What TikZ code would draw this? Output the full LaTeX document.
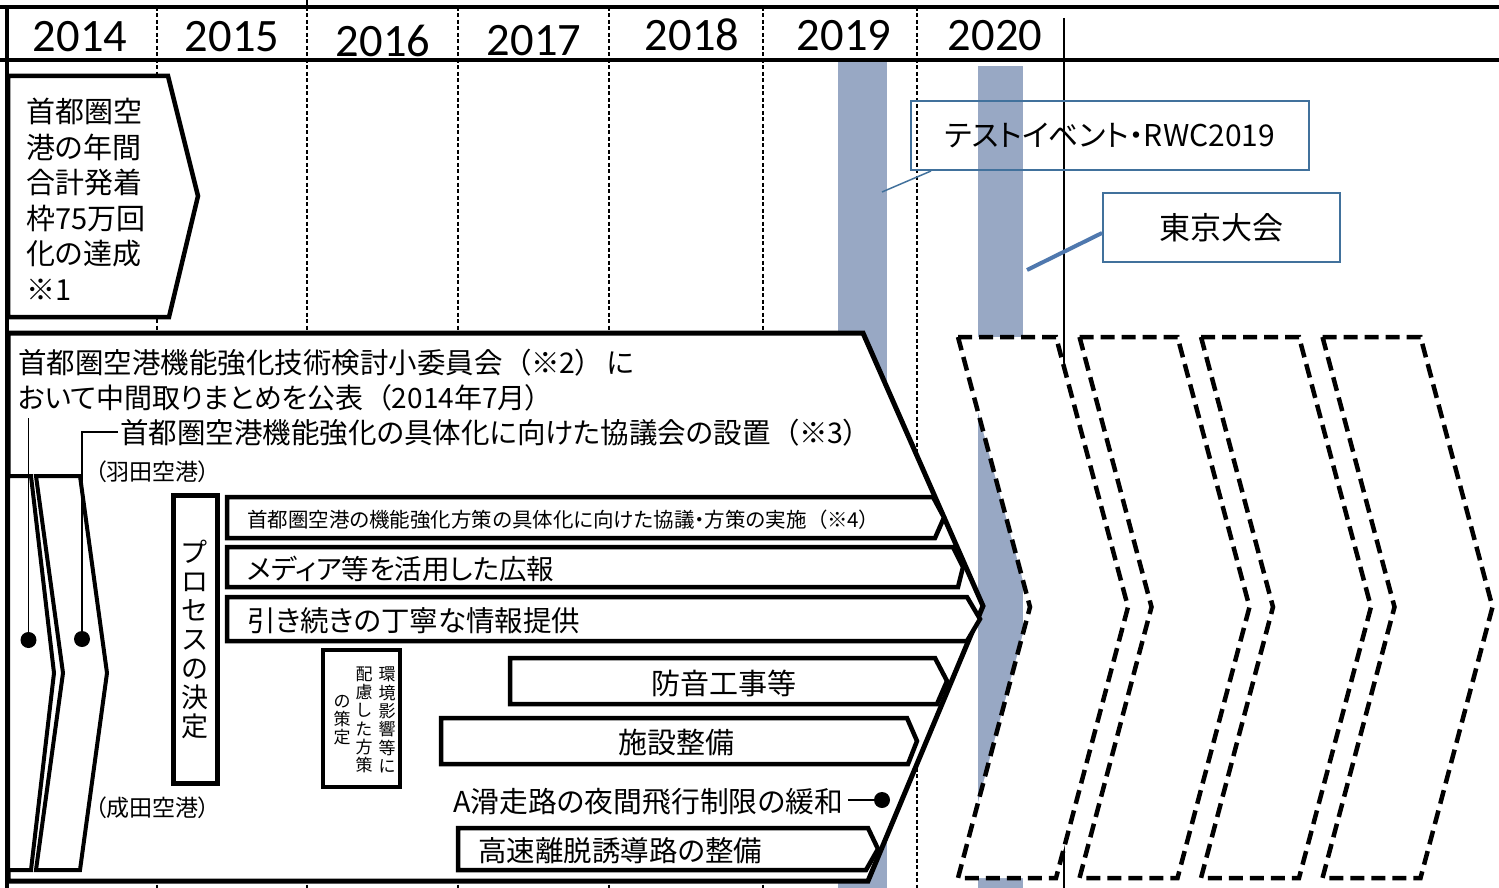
\documentclass[tikz,border=0pt]{standalone}
\usepackage{fontspec}
\newfontfamily\jp[RawFeature=+palt]{Noto Sans CJK JP}
\newfontfamily\yr{Carlito}
\newcommand\fsz[1]{\fontsize{#1}{#1}\selectfont}
\newcommand\jlp{\hspace{.5em}（}
\newcommand\jrp{）\hspace{.5em}}
\definecolor{barblue}{RGB}{152,168,196}
\definecolor{callblue}{RGB}{65,113,156}
\definecolor{callblueb}{RGB}{79,120,174}
\begin{document}
\begin{tikzpicture}[x=1pt,y=-1pt,
  jp/.style={font=\jp, inner sep=0pt},
  year/.style={font=\yr\fsz{46.5}, inner sep=0pt, anchor=base},
  grid/.style={line width=1.3pt, dash pattern=on 4pt off 2.5pt},
  shapebox/.style={draw, line width=4.5pt, fill=white, line join=miter},
  dbox/.style={draw, line width=4.5pt, fill=white, dash pattern=on 14pt off 7pt},
  dot/.style={circle, fill=black, inner sep=0pt, minimum size=16pt},
  cbox/.style={draw=callblue, line width=2pt, inner sep=0pt, font=\jp\fsz{30}},
]
\useasboundingbox (0,0) rectangle (1499,888);
\fill[white] (0,0) rectangle (1499,888);

% grid lines
\foreach \gx in {157,458,609,763,917} \draw[grid] (\gx,7) -- (\gx,888);
\draw[grid] (307,7) -- (307,888);
\draw[line width=1.3pt] (307,0) -- (307,7);
\draw[line width=1.3pt] (1064,18) -- (1064,888);

% event bars
\fill[barblue] (838,62) rectangle (887,888);
\fill[barblue] (978,66) rectangle (1023,888);

% header
\draw[line width=3.5pt] (0,7) -- (1499,7);
\draw[line width=4pt] (0,60) -- (1499,60);
\draw[line width=3.5pt] (7,5.25) -- (7,888);

\node[year] (y2014) at (80,52) {2014};
\node[year] (y2015) at (232,52) {2015};
\node[year] (y2016) at (383,57) {2016};
\node[year] (y2017) at (534,56) {2017};
\node[year] (y2018) at (692,51) {2018};
\node[year] (y2019) at (844,51) {2019};
\node[year] (y2020) at (995,51) {2020};

% top-left chevron
\draw[shapebox] (8,76) -- (168,76) -- (198,196) -- (169,317) -- (8,317) -- cycle;
\foreach \t [count=\i] in {首都圏空,港の年間,合計発着,枠75万回,化の達成,※1}
  \node[jp, font=\jp\fsz{29}, anchor=base west] (tl\i) at (26,{123+35.4*(\i-1)}) {\t};

% big arrow
\draw[shapebox, line width=5pt] (8,333) -- (863,333) -- (983,606) -- (868,881) -- (8,881) -- cycle;
\node[jp, font=\jp\fsz{28.5}, anchor=base west] (t1) at (18,373) {首都圏空港機能強化技術検討小委員会\jlp※2\jrp\hspace{.1em}に};
\node[jp, font=\jp\fsz{28}, anchor=base west] (t2) at (18,408) {おいて中間取りまとめを公表\jlp 2014年7月）};
\node[jp, font=\jp\fsz{28.5}, anchor=base west] (t3) at (120,443) {首都圏空港機能強化の具体化に向けた協議会の設置\jlp※3）};

% narrow chevrons (Haneda / Narita)
\draw[shapebox, line width=4pt] (8,476) -- (31,476) -- (54,673) -- (31,870) -- (8,870) -- cycle;
\draw[shapebox, line width=4pt] (36,476) -- (80,476) -- (107,673) -- (80,870) -- (36,870) -- (63,673) -- cycle;
\node[jp, font=\jp\fsz{23}, anchor=base west] (hnd) at (95,480) {（羽田空港）};
\node[jp, font=\jp\fsz{23}, anchor=base west] (nrt) at (95,816) {（成田空港）};

% connectors to dots
\node[dot] (d1) at (28.5,640) {};
\node[dot] (d2) at (82,639) {};
\coordinate (c1) at (28.5,418);
\coordinate (c2) at (118,432);
\draw[line width=1.5pt] (c1) -- (d1);
\draw[line width=2.2pt] (c2) -| (d2);

% process box
\draw[shapebox, line width=5pt] (173,495) rectangle (217,783);
\node[jp, font=\jp\fontsize{27}{29}\selectfont, align=center] (proc) at (195,639) {プ\\ロ\\セ\\ス\\の\\決\\定};

% environment box
\draw[shapebox, line width=4pt] (323,650) rectangle (400,787);
\node[jp, font=\jp\fontsize{17}{18.3}\selectfont, align=center] (env1) at (387,720) {環\\境\\影\\響\\等\\に};
\node[jp, font=\jp\fontsize{17}{18.3}\selectfont, align=center] (env2) at (364,720) {配\\慮\\し\\た\\方\\策};
\node[jp, font=\jp\fontsize{17}{18.3}\selectfont, align=center] (env3) at (342,720) {の\\策\\定};

% horizontal bars
\draw[shapebox] (227,497) -- (933,497) -- (944,517.5) -- (935,538) -- (227,538) -- cycle;
\node[jp, font=\jp\fsz{20.5}, anchor=base west] (b1) at (247,527) {首都圏空港の機能強化方策の具体化に向けた協議・方策の実施\jlp※4）};
\draw[shapebox] (227,547) -- (953,547) -- (963,567) -- (958,587) -- (227,587) -- cycle;
\node[jp, font=\jp\fsz{27.5}, anchor=base west] (b2) at (247,579) {メディア等を活用した広報};
\draw[shapebox] (227,597) -- (967,597) -- (980,619) -- (967,641) -- (227,641) -- cycle;
\node[jp, font=\jp\fsz{28.5}, anchor=base west] (b3) at (247,631) {引き続きの丁寧な情報提供};
\draw[shapebox] (510,658) -- (935,658) -- (947,681) -- (937,704) -- (510,704) -- cycle;
\node[jp, font=\jp\fsz{29}, anchor=base] (b4) at (724,694) {防音工事等};
\draw[shapebox] (441,718) -- (907,718) -- (917,741) -- (908,764) -- (441,764) -- cycle;
\node[jp, font=\jp\fsz{29}, anchor=base] (b5) at (676,753) {施設整備};
\node[jp, font=\jp\fsz{28.8}, anchor=base west] (b6) at (453,812) {A滑走路の夜間飛行制限の緩和};
\node[dot] (d3) at (882,800) {};
\coordinate (c3) at (848,800);
\draw[line width=2pt] (c3) -- (d3);
\draw[shapebox] (458,828) -- (868,828) -- (878,849) -- (866,870) -- (458,870) -- cycle;
\node[jp, font=\jp\fsz{28.5}, anchor=base west] (b7) at (478,861) {高速離脱誘導路の整備};

% dashed chevrons
\foreach \i in {0,1,2,3} {
  \pgfmathsetmacro{\L}{958+121.5*\i}
  \draw[dbox] (\L,337) -- ({\L+98},337) -- ({\L+170},607) -- ({\L+98},878) -- (\L,878) -- ({\L+72},607) -- cycle;
}

% callouts
\node[cbox, minimum width=398pt, minimum height=69pt] (rwc) at (1110,135.5) {テストイベント・RWC2019};
\node[cbox, font=\jp\fsz{31}, minimum width=237pt, minimum height=69pt] (tky) at (1221.5,227.5) {東京大会};
\coordinate (rwcp) at (882,192);
\coordinate (tkyp) at (1027,270);
\draw[callblue, line width=1.5pt] ([xshift=21pt]rwc.south west) -- (rwcp);
\draw[callblueb, line width=4pt] ([yshift=-5.5pt]tky.west) -- (tkyp);
\end{tikzpicture}
\end{document}
